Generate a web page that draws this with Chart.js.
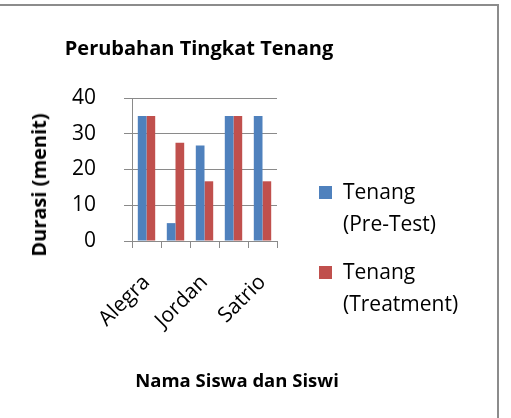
<!DOCTYPE html>
<html lang="id">
<head>
<meta charset="UTF-8">
<title>Perubahan Tingkat Tenang</title>
<script src="https://cdn.jsdelivr.net/npm/chart.js"></script>
<style>
  html, body { margin: 0; padding: 0; background: #fff; }
  #wrap { position: relative; width: 511px; height: 418px; overflow: hidden; font-family: "Open Sans", sans-serif; color: #000; }
  #frame { position: absolute; left: -5px; top: 4px; width: 502px; height: 430px;
           border-top: 2px solid #8c8c8c; border-right: 2px solid #8c8c8c; }
  canvas { position: absolute; left: 0; top: 0; }
  .ttl { position: absolute; font-weight: bold; white-space: nowrap; transform: translate(-50%, -50%); line-height: 1; }
  #title { left: 199px; top: 48px; font-size: 20px; }
  #xtitle { left: 237px; top: 380px; font-size: 18.5px; }
  #ytitle { left: 39px; top: 185px; font-size: 20px; transform: translate(-50%, -50%) rotate(-90deg); }
  #legend { position: absolute; left: 319px; top: 175px; font-size: 21px; line-height: 32px; }
  .item { position: relative; padding-left: 24px; margin-bottom: 16px; }
  .sw { position: absolute; left: 0; top: 11px; width: 13px; height: 13px; }
</style>
</head>
<body>
<div id="wrap">
  <div id="frame"></div>
  <canvas id="chart" width="511" height="418"></canvas>
  <div id="title" class="ttl">Perubahan Tingkat Tenang</div>
  <div id="ytitle" class="ttl">Durasi (menit)</div>
  <div id="xtitle" class="ttl">Nama Siswa dan Siswi</div>
  <div id="legend"></div>
</div>
<script>
// data (names 2 and 4 are not shown on the axis)
const students = ['Alegra', '', 'Jordan', '', 'Satrio'];
const preTest = [35, 5, 26.7, 35, 35];
const treatment = [35, 27.5, 16.7, 35, 16.7];
const seriesNames = [['Tenang', '(Pre-Test)'], ['Tenang', '(Treatment)']];
const seriesColors = ['#4f81bd', '#c0504d'];
const yTicks = [0, 10, 20, 30, 40];

const font = '"Open Sans", sans-serif';
const gridColor = '#8a8a8a';

const chart = new Chart(document.getElementById('chart'), {
    type: 'bar',
    data: {
        labels: students,
        datasets: [preTest, treatment].map((d, i) => ({
            label: seriesNames[i].join(' '),
            data: d,
            backgroundColor: seriesColors[i],
            barPercentage: 1,
            categoryPercentage: 0.6
        }))
    },
    options: {
        responsive: false,
        animation: false,
        layout: { padding: { left: 67, right: 234, top: 98, bottom: 0 } },
        plugins: {
            legend: { display: false },
            tooltip: { enabled: false }
        },
        scales: {
            x: {
                afterFit: s => { s.height = 177; },
                grid: { display: true, drawOnChartArea: false, drawTicks: true, tickLength: 7, color: gridColor },
                border: { color: gridColor },
                ticks: { color: '#000', font: { family: font, size: 21 }, minRotation: 45, maxRotation: 45, autoSkip: false, padding: 22 }
            },
            y: {
                min: 0, max: 40,
                afterBuildTicks: s => { s.ticks = yTicks.map(v => ({ value: v })); },
                afterFit: s => { s.width = 65; },
                grid: { color: gridColor, tickLength: 8 },
                border: { color: gridColor },
                ticks: { color: '#000', font: { family: font, size: 21 }, padding: 28 }
            }
        }
    }
});

// legend built from the dataset colours and names
const legend = document.getElementById('legend');
seriesNames.forEach((lines, i) => {
    const div = document.createElement('div');
    div.className = 'item';
    div.innerHTML = '<span class="sw" style="background:' + seriesColors[i] + '"></span>' + lines.join('<br>');
    legend.appendChild(div);
});
</script>
</body>
</html>
